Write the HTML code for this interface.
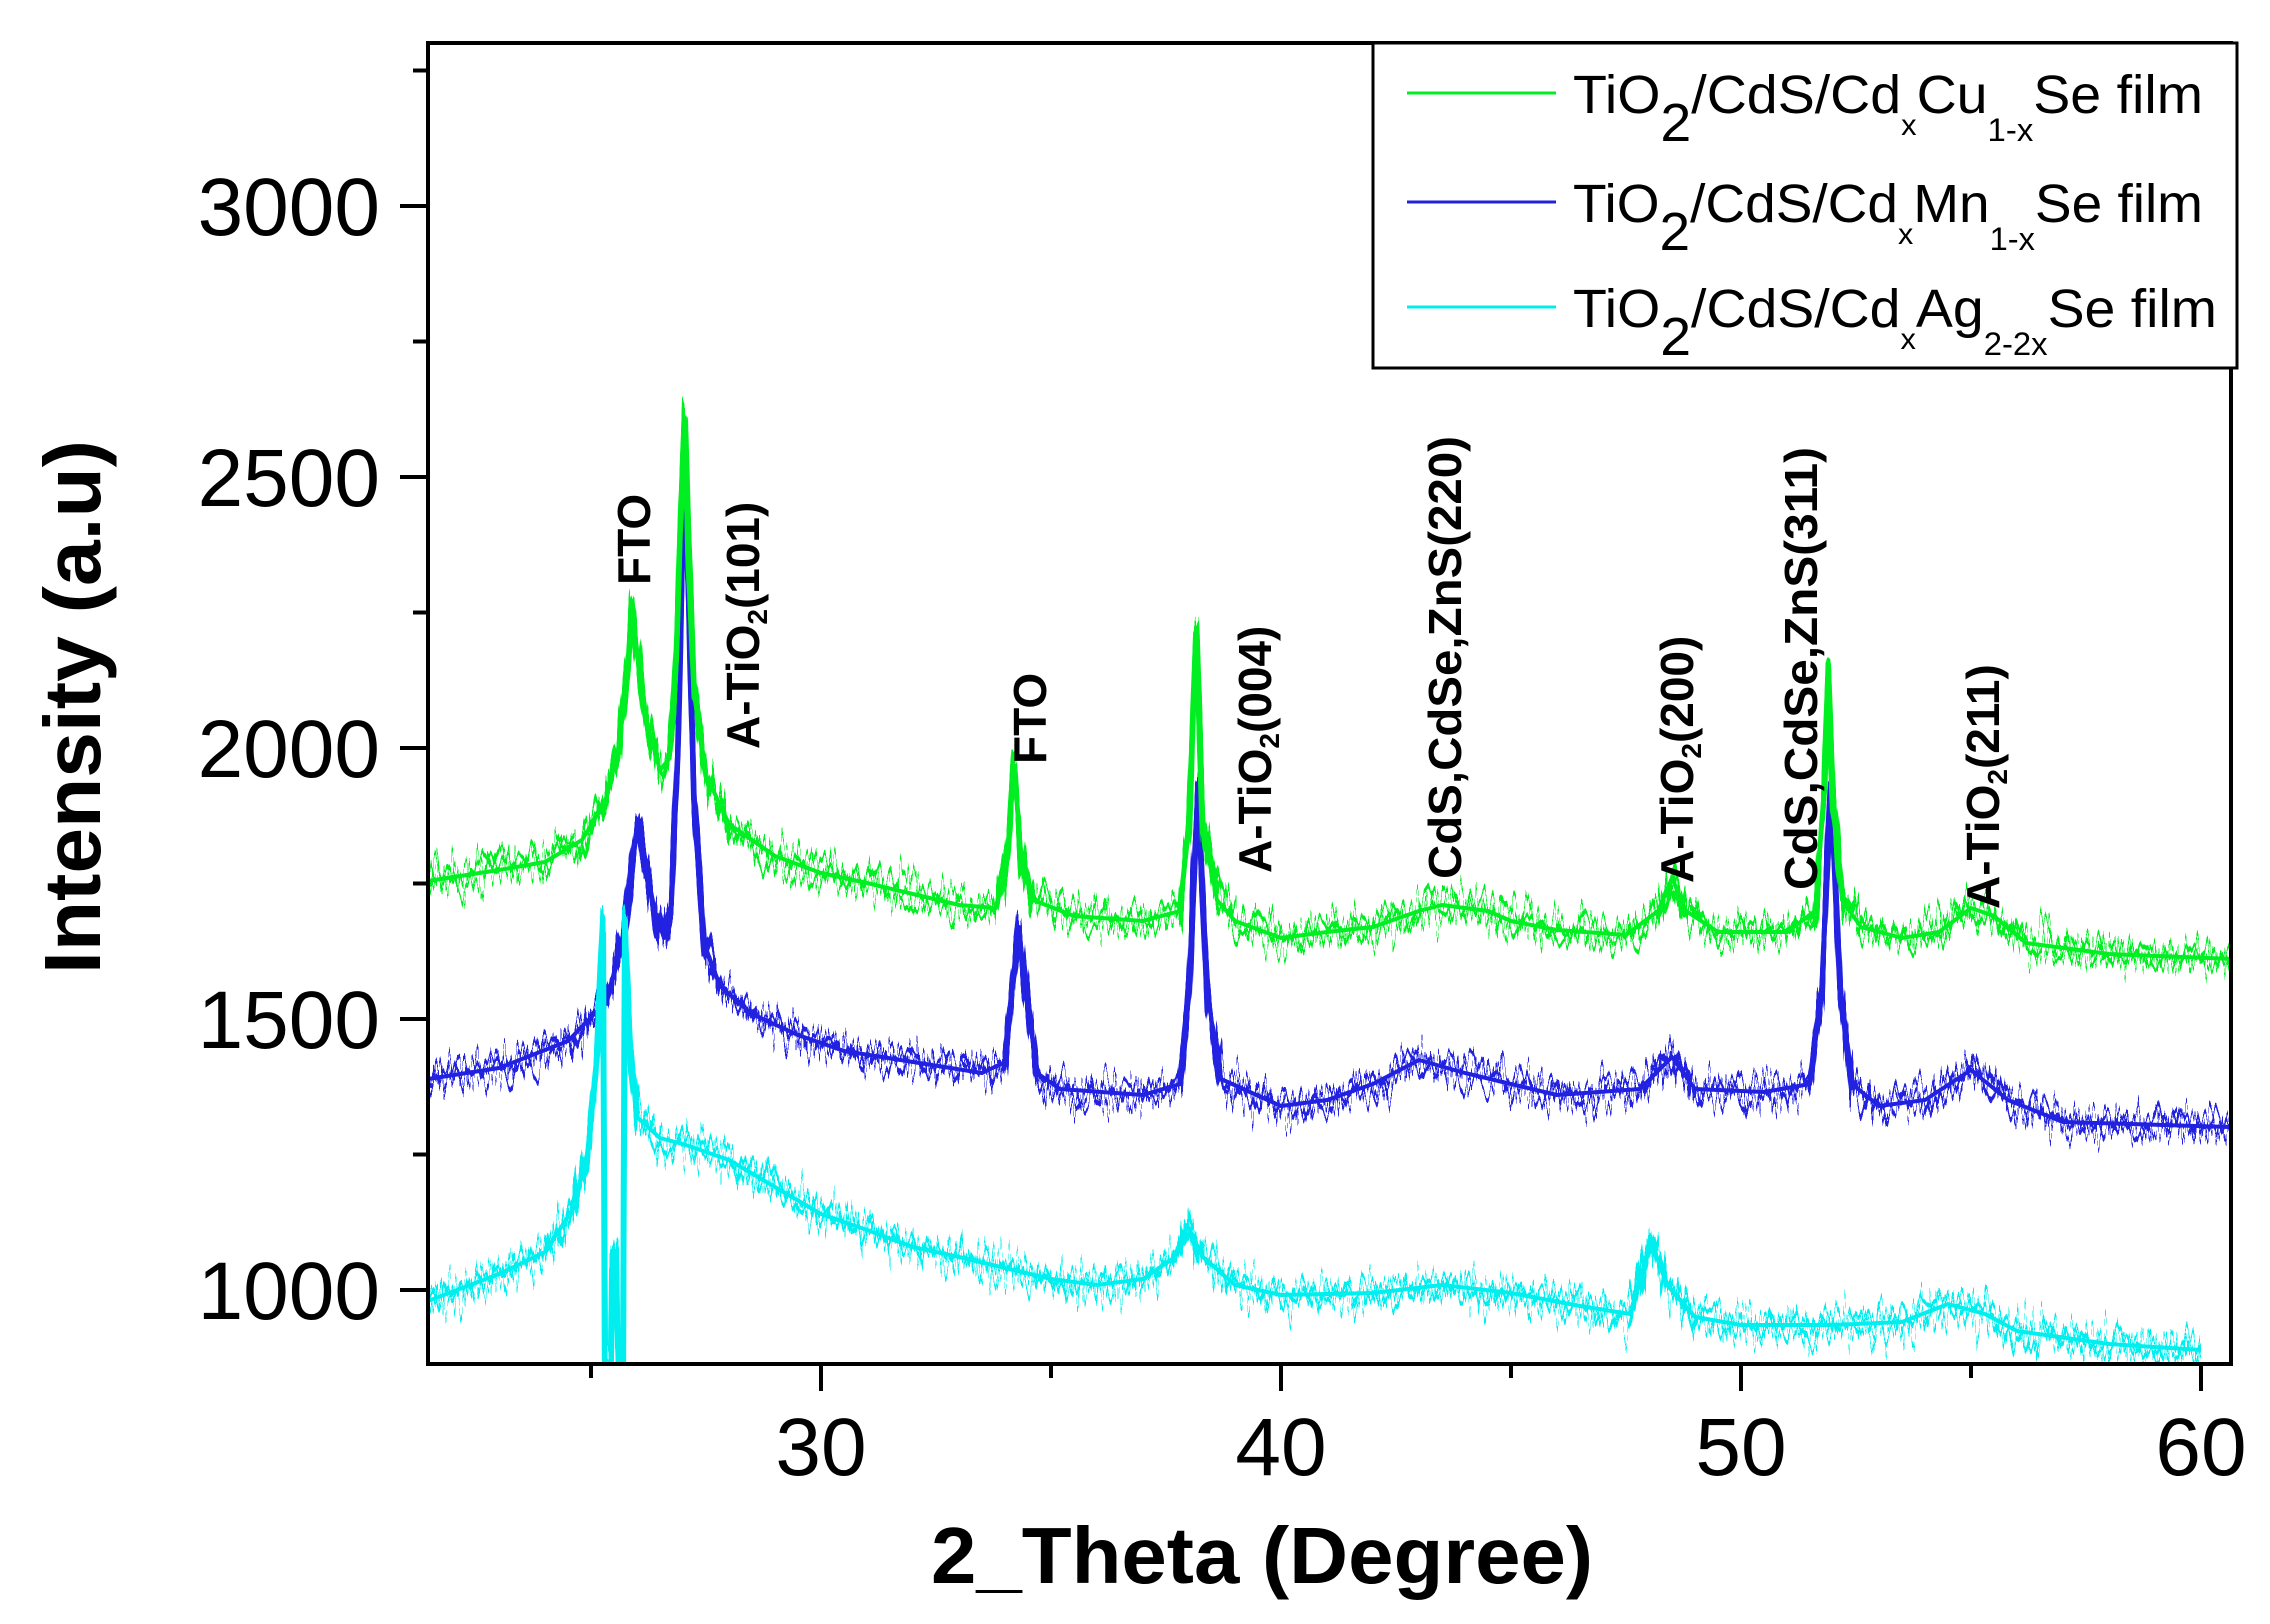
<!DOCTYPE html>
<html><head><meta charset="utf-8"><style>
html,body{margin:0;padding:0;background:#fff;}
svg{display:block;}
text{font-family:"Liberation Sans",Arial,sans-serif;fill:#000;}
.b{font-weight:bold;}
</style></head><body>
<svg width="2270" height="1624" viewBox="0 0 2270 1624" xmlns="http://www.w3.org/2000/svg">
<defs>
<clipPath id="pc"><rect x="430" y="45" width="1799" height="1317"/></clipPath>
<filter id="n1" filterUnits="userSpaceOnUse" x="0" y="0" width="2270" height="1624">
<feTurbulence type="fractalNoise" baseFrequency="0.25 0.004" numOctaves="2" seed="3" result="t"/>
<feColorMatrix in="t" type="matrix" values="0 0 0 0 0.5  0 1 0 0 0  0 0 1 0 0  0 0 0 0 1" result="m"/>
<feDisplacementMap in="SourceGraphic" in2="m" scale="90" xChannelSelector="R" yChannelSelector="G"/>
</filter>
<filter id="n2" filterUnits="userSpaceOnUse" x="0" y="0" width="2270" height="1624">
<feTurbulence type="fractalNoise" baseFrequency="0.25 0.004" numOctaves="2" seed="11" result="t"/>
<feColorMatrix in="t" type="matrix" values="0 0 0 0 0.5  0 1 0 0 0  0 0 1 0 0  0 0 0 0 1" result="m"/>
<feDisplacementMap in="SourceGraphic" in2="m" scale="90" xChannelSelector="R" yChannelSelector="G"/>
</filter>
<filter id="n3" filterUnits="userSpaceOnUse" x="0" y="0" width="2270" height="1624">
<feTurbulence type="fractalNoise" baseFrequency="0.25 0.004" numOctaves="2" seed="27" result="t"/>
<feColorMatrix in="t" type="matrix" values="0 0 0 0 0.5  0 1 0 0 0  0 0 1 0 0  0 0 0 0 1" result="m"/>
<feDisplacementMap in="SourceGraphic" in2="m" scale="100" xChannelSelector="R" yChannelSelector="G"/>
</filter>
<filter id="n4" filterUnits="userSpaceOnUse" x="0" y="0" width="2270" height="1624">
<feTurbulence type="fractalNoise" baseFrequency="0.12 0.004" numOctaves="2" seed="41" result="t"/>
<feColorMatrix in="t" type="matrix" values="0 0 0 0 0.5  0 1 0 0 0  0 0 1 0 0  0 0 0 0 1" result="m"/>
<feDisplacementMap in="SourceGraphic" in2="m" scale="80" xChannelSelector="R" yChannelSelector="G"/>
</filter>
<filter id="n5" filterUnits="userSpaceOnUse" x="0" y="0" width="2270" height="1624">
<feTurbulence type="fractalNoise" baseFrequency="0.4 0.004" numOctaves="1" seed="77" result="t"/>
<feColorMatrix in="t" type="matrix" values="0 0 0 0 0.5  0 1 0 0 0  0 0 1 0 0  0 0 0 0 1" result="m"/>
<feDisplacementMap in="SourceGraphic" in2="m" scale="70" xChannelSelector="R" yChannelSelector="G"/>
</filter>
<path id="pg" d="M428,881 L499,870 L545,862 L582,840 L605,802 L619,748 L628,667 L632,604 L637,650 L646,721 L660,770 L669,759 L676,667 L681,504 L685,423 L688,531 L694,694 L706,775 L729,824 L775,856 L821,873 L867,883 L913,894 L959,905 L996,908 L1007,856 L1014,770 L1021,856 L1033,900 L1074,916 L1143,921 L1180,911 L1189,829 L1196,634 L1203,829 L1217,900 L1235,921 L1281,938 L1327,932 L1373,927 L1419,911 L1442,905 L1488,911 L1511,921 L1557,930 L1626,935 L1658,911 L1672,878 L1686,911 L1718,932 L1787,932 L1815,911 L1824,802 L1828,667 L1833,802 L1842,900 L1861,927 L1902,938 L1939,932 L1971,908 L1994,916 L2026,943 L2109,954 L2231,959"/>
<path id="pb" d="M428,1079 L499,1068 L568,1041 L605,1003 L623,943 L637,824 L646,867 L655,911 L664,938 L671,911 L678,748 L683,531 L685,499 L688,585 L694,802 L704,943 L720,986 L752,1014 L798,1035 L844,1051 L913,1062 L982,1073 L1005,1062 L1012,992 L1019,927 L1026,992 L1037,1073 L1060,1089 L1143,1095 L1180,1084 L1189,992 L1198,786 L1207,992 L1221,1079 L1281,1106 L1327,1100 L1373,1084 L1419,1060 L1465,1073 L1511,1084 L1557,1095 L1640,1089 L1672,1057 L1695,1089 L1764,1092 L1810,1084 L1822,992 L1831,786 L1840,992 L1852,1084 L1879,1106 L1925,1100 L1971,1070 L2008,1100 L2063,1122 L2231,1127"/>
<path id="pcy" d="M428,1301 L499,1274 L545,1252 L573,1209 L587,1154 L596,1073 L603,921 L605,1364 L611,1364 L612,1263 L614,1274 L616,1257 L618,1364 L623,1364 L625,927 L630,1046 L637,1117 L660,1138 L683,1144 L729,1160 L775,1187 L821,1214 L867,1230 L913,1247 L959,1257 L1005,1268 L1051,1279 L1097,1285 L1143,1279 L1175,1257 L1187,1225 L1203,1257 L1235,1285 L1281,1295 L1373,1293 L1442,1285 L1511,1293 L1580,1306 L1630,1314 L1651,1241 L1667,1285 L1695,1317 L1741,1325 L1833,1325 L1902,1322 L1948,1304 L1985,1314 L2017,1331 L2109,1344 L2201,1350"/>
</defs>
<rect width="2270" height="1624" fill="#fff"/>
<g clip-path="url(#pc)" fill="none" stroke-linejoin="round">
<use href="#pb" stroke="#2020e0" stroke-width="4"/>
<use href="#pb" stroke="#2020e0" stroke-width="6" filter="url(#n2)"/>
<use href="#pb" stroke="#2020e0" stroke-width="5" filter="url(#n4)"/>
<use href="#pb" stroke="#2020e0" stroke-width="5" filter="url(#n5)"/>
<use href="#pg" stroke="#00ee22" stroke-width="4"/>
<use href="#pg" stroke="#00ee22" stroke-width="6" filter="url(#n1)"/>
<use href="#pg" stroke="#00ee22" stroke-width="5" filter="url(#n4)"/>
<use href="#pg" stroke="#00ee22" stroke-width="5" filter="url(#n5)"/>
<use href="#pcy" stroke="#00eeee" stroke-width="4"/>
<use href="#pcy" stroke="#00eeee" stroke-width="6" filter="url(#n3)"/>
<use href="#pcy" stroke="#00eeee" stroke-width="5" filter="url(#n4)"/>
<use href="#pcy" stroke="#00eeee" stroke-width="5" filter="url(#n5)"/>
</g>
<rect x="428" y="43" width="1803" height="1321" fill="none" stroke="#000" stroke-width="4"/>
<g stroke="#000" stroke-width="4">
<line x1="428" y1="1290" x2="400" y2="1290"/><line x1="428" y1="1019" x2="400" y2="1019"/><line x1="428" y1="748" x2="400" y2="748"/><line x1="428" y1="477" x2="400" y2="477"/><line x1="428" y1="206" x2="400" y2="206"/>
<line x1="428" y1="1154.5" x2="413" y2="1154.5"/><line x1="428" y1="883.5" x2="413" y2="883.5"/><line x1="428" y1="612.5" x2="413" y2="612.5"/><line x1="428" y1="341.5" x2="413" y2="341.5"/><line x1="428" y1="70.5" x2="413" y2="70.5"/>
<line x1="821" y1="1364" x2="821" y2="1391"/><line x1="1281" y1="1364" x2="1281" y2="1391"/><line x1="1741" y1="1364" x2="1741" y2="1391"/><line x1="2201" y1="1364" x2="2201" y2="1391"/>
<line x1="591" y1="1364" x2="591" y2="1378"/><line x1="1051" y1="1364" x2="1051" y2="1378"/><line x1="1511" y1="1364" x2="1511" y2="1378"/><line x1="1971" y1="1364" x2="1971" y2="1378"/>
</g>
<g font-size="82" text-anchor="end">
<text x="380" y="235">3000</text>
<text x="380" y="506">2500</text>
<text x="380" y="777">2000</text>
<text x="380" y="1048">1500</text>
<text x="380" y="1319">1000</text>
</g>
<g font-size="82" text-anchor="middle">
<text x="821" y="1475">30</text>
<text x="1281" y="1475">40</text>
<text x="1741" y="1475">50</text>
<text x="2201" y="1475">60</text>
</g>
<text class="b" font-size="80" text-anchor="middle" x="1262" y="1583" textLength="662" lengthAdjust="spacingAndGlyphs">2_Theta (Degree)</text>
<text class="b" font-size="80" text-anchor="middle" transform="translate(100,707) rotate(-90)" textLength="534" lengthAdjust="spacingAndGlyphs">Intensity (a.u)</text>
<g class="b" font-size="46">
<text transform="translate(650,585) rotate(-90)">FTO</text>
<text transform="translate(759,749) rotate(-90)">A-TiO<tspan font-size="28" dy="8">2</tspan><tspan dy="-8">(101)</tspan></text>
<text transform="translate(1046,764) rotate(-90)">FTO</text>
<text transform="translate(1271,873) rotate(-90)">A-TiO<tspan font-size="28" dy="8">2</tspan><tspan dy="-8">(004)</tspan></text>
<text transform="translate(1461,879) rotate(-90)" textLength="443" lengthAdjust="spacingAndGlyphs">CdS,CdSe,ZnS(220)</text>
<text transform="translate(1693,883) rotate(-90)">A-TiO<tspan font-size="28" dy="8">2</tspan><tspan dy="-8">(200)</tspan></text>
<text transform="translate(1817,890) rotate(-90)" textLength="443" lengthAdjust="spacingAndGlyphs">CdS,CdSe,ZnS(311)</text>
<text transform="translate(1999,909) rotate(-90)">A-TiO<tspan font-size="28" dy="8">2</tspan><tspan dy="-8">(211)</tspan></text>
</g>
<rect x="1373" y="43" width="864" height="325" fill="#fff" stroke="#000" stroke-width="3"/>
<line x1="1407" y1="93" x2="1556" y2="93" stroke="#00ee22" stroke-width="3"/>
<line x1="1407" y1="202" x2="1556" y2="202" stroke="#2222dd" stroke-width="3"/>
<line x1="1407" y1="307" x2="1556" y2="307" stroke="#00eeee" stroke-width="3"/>
<g font-size="54">
<text x="1573" y="113" textLength="630" lengthAdjust="spacingAndGlyphs">TiO<tspan dy="28">2</tspan><tspan dy="-28">/CdS/Cd</tspan><tspan font-size="30" dy="22">x</tspan><tspan dy="-22">Cu</tspan><tspan font-size="32" dy="28">1-x</tspan><tspan dy="-28">Se film</tspan></text>
<text x="1573" y="222" textLength="630" lengthAdjust="spacingAndGlyphs">TiO<tspan dy="28">2</tspan><tspan dy="-28">/CdS/Cd</tspan><tspan font-size="30" dy="22">x</tspan><tspan dy="-22">Mn</tspan><tspan font-size="32" dy="28">1-x</tspan><tspan dy="-28">Se film</tspan></text>
<text x="1573" y="327" textLength="644" lengthAdjust="spacingAndGlyphs">TiO<tspan dy="28">2</tspan><tspan dy="-28">/CdS/Cd</tspan><tspan font-size="30" dy="22">x</tspan><tspan dy="-22">Ag</tspan><tspan font-size="32" dy="28">2-2x</tspan><tspan dy="-28">Se film</tspan></text>
</g>
</svg>
</body></html>
